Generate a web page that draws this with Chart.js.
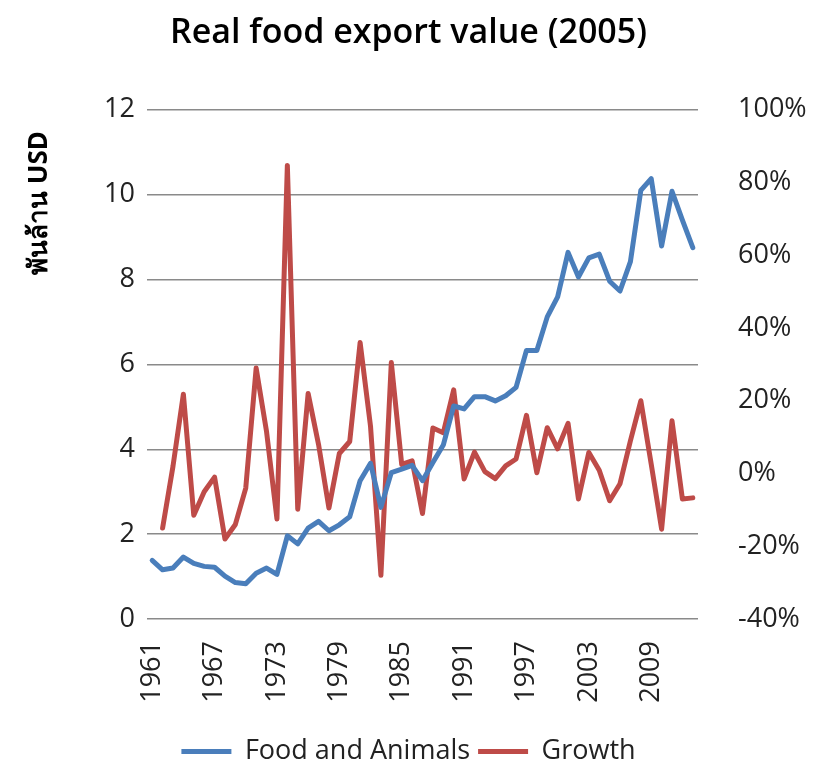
<!DOCTYPE html>
<html>
<head>
<meta charset="utf-8">
<script src="https://cdn.jsdelivr.net/npm/chart.js@4.4.0/dist/chart.umd.min.js"></script>
<style>
  html, body { margin: 0; padding: 0; background: #fff; }
  #wrap { width: 817px; height: 771px; }
</style>
</head>
<body>
<div id="wrap"><canvas id="exportChart"></canvas></div>
<script>
// Real food export value (2005 prices), 1961-2013
const years = [
    '1961', '1962', '1963', '1964', '1965', '1966', '1967', '1968', '1969', '1970',
    '1971', '1972', '1973', '1974', '1975', '1976', '1977', '1978', '1979', '1980',
    '1981', '1982', '1983', '1984', '1985', '1986', '1987', '1988', '1989', '1990',
    '1991', '1992', '1993', '1994', '1995', '1996', '1997', '1998', '1999', '2000',
    '2001', '2002', '2003', '2004', '2005', '2006', '2007', '2008', '2009', '2010',
    '2011', '2012', '2013'
];

// billion USD (left axis)
const foodAndAnimals = [
    1.38, 1.16, 1.20, 1.46, 1.31, 1.24, 1.22, 1.01, 0.86, 0.83,
    1.08, 1.20, 1.05, 1.96, 1.77, 2.14, 2.30, 2.08, 2.22, 2.41,
    3.26, 3.67, 2.63, 3.45, 3.53, 3.62, 3.26, 3.69, 4.10, 5.02,
    4.95, 5.24, 5.24, 5.14, 5.26, 5.46, 6.33, 6.33, 7.12, 7.59,
    8.64, 8.06, 8.51, 8.60, 7.96, 7.73, 8.42, 10.10, 10.38, 8.79,
    10.08, 9.40, 8.75
];

// growth in % (right axis)
const growth = [
    null, -15, 2, 21.8, -11.5, -5, -1, -18, -14, -4,
    29, 11.5, -12.5, 84.7, -9.8, 22, 8, -9.5, 5.5, 8.8,
    36, 13, -28, 30.5, 2.5, 3.5, -11, 12.5, 11.2, 23,
    -1.5, 5.9, 0.5, -1.4, 2.1, 4, 16, 0.2, 12.6, 6.8,
    13.8, -7, 5.8, 0.9, -7.5, -2.8, 9, 20, 2.6, -15.3,
    14.5, -7, -6.7
];

const leftTicks = { min: 0, max: 12, step: 2 };
const rightTicks = { min: -40, max: 100, step: 20 };

const FONT = "'Open Sans', 'Noto Sans', sans-serif";
const BLUE = '#4A7EBB';
const RED = '#BE4B48';

// vertical axis title sits high on the left, as in the original
const yTitlePlugin = {
    id: 'yTitle',
    afterDraw(chart) {
        const ctx = chart.ctx;
        ctx.save();
        ctx.translate(40, 203);
        ctx.rotate(-Math.PI / 2);
        ctx.font = "bold 26px 'Noto Sans', 'Open Sans', sans-serif";
        ctx.fillStyle = '#000';
        ctx.textAlign = 'center';
        ctx.textBaseline = 'middle';
        ctx.fillText('พันล้าน USD', 0, 0);
        ctx.restore();
    }
};

const config = {
    type: 'line',
    data: {
        labels: years,
        datasets: [{
            label: 'Food and Animals',
            data: foodAndAnimals,
            yAxisID: 'y',
            borderColor: BLUE,
            backgroundColor: BLUE,
            borderWidth: 5,
            borderCapStyle: 'round',
            borderJoinStyle: 'round',
            pointRadius: 0,
            tension: 0
        }, {
            label: 'Growth',
            data: growth,
            yAxisID: 'y1',
            borderColor: RED,
            backgroundColor: RED,
            borderWidth: 5,
            borderCapStyle: 'round',
            borderJoinStyle: 'round',
            pointRadius: 0,
            tension: 0
        }]
    },
    options: {
        responsive: true,
        maintainAspectRatio: false,
        animation: false,
        layout: { padding: { bottom: -4 } },
        plugins: {
            title: {
                display: true,
                text: 'Real food export value (2005)',
                font: { family: FONT, size: 34, weight: '600' },
                color: '#000',
                padding: { top: 13, bottom: 56 }
            },
            legend: {
                position: 'bottom',
                labels: {
                    usePointStyle: true,
                    pointStyle: 'line',
                    pointStyleWidth: 50,
                    padding: 8,
                    color: '#222',
                    font: { family: FONT, size: 27 }
                }
            },
            tooltip: { enabled: false }
        },
        scales: {
            x: {
                type: 'category',
                offset: true,
                grid: { display: false, drawTicks: false },
                border: { display: false },
                ticks: {
                    autoSkip: false,
                    minRotation: 90,
                    maxRotation: 90,
                    padding: 22,
                    color: '#222',
                    font: { family: FONT, size: 27 },
                    callback: function(value, index) {
                        return index % 6 === 0 ? years[index] : '';
                    }
                },
                afterFit: function(scale) { scale.height = 111; }
            },
            y: {
                position: 'left',
                min: leftTicks.min,
                max: leftTicks.max,
                grid: { color: '#8a8a8a', lineWidth: 1.5, drawTicks: false },
                border: { display: false },
                ticks: {
                    stepSize: leftTicks.step,
                    padding: 12,
                    color: '#222',
                    font: { family: FONT, size: 27 }
                },
                afterFit: function(scale) { scale.width = 147; }
            },
            y1: {
                position: 'right',
                min: rightTicks.min,
                max: rightTicks.max,
                grid: { display: false, drawTicks: false },
                border: { display: false },
                ticks: {
                    stepSize: rightTicks.step,
                    padding: 40,
                    color: '#222',
                    font: { family: FONT, size: 27 },
                    callback: function(value) { return value + '%'; }
                },
                afterFit: function(scale) { scale.width = 119; }
            }
        }
    },
    plugins: [yTitlePlugin]
};

new Chart(document.getElementById('exportChart'), config);
</script>
</body>
</html>
